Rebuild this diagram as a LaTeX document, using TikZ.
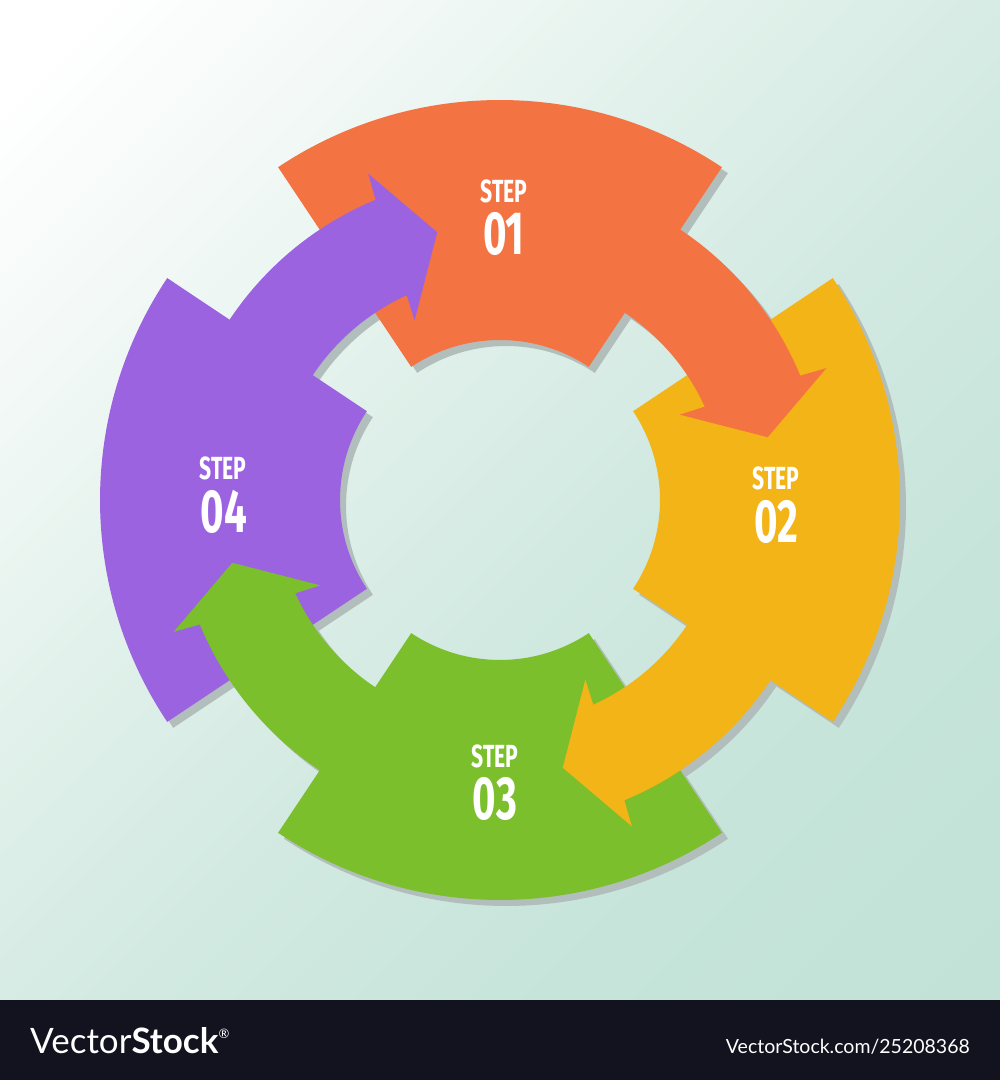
\documentclass[tikz,border=0pt]{standalone}
\usepackage{fontspec}
\newfontfamily\stepfont[FakeStretch=0.66]{Fira Sans}
\newfontfamily\logofont{Lato}
\definecolor{cOrange}{HTML}{F47342}
\definecolor{cYellow}{HTML}{F2B416}
\definecolor{cGreen}{HTML}{7BBF2C}
\definecolor{cPurple}{HTML}{9B63E0}
\definecolor{shadowc}{HTML}{B2BEBB}
\definecolor{barc}{HTML}{12131F}
\definecolor{bgA}{HTML}{FFFFFF}
\definecolor{bgB}{HTML}{F1F8F5}
\definecolor{bgC}{HTML}{E0F0EA}
\definecolor{bgD}{HTML}{D1E9E1}
\definecolor{bgE}{HTML}{C6E4DA}
\definecolor{bgF}{HTML}{BEE0D4}
\pgfdeclarehorizontalshading{bgshade}{100bp}{color(0bp)=(bgA); color(18bp)=(bgA); color(30bp)=(bgB); color(42bp)=(bgC); color(55bp)=(bgD); color(70bp)=(bgE); color(100bp)=(bgF)}
\tikzset{
  steplabel/.style={text=white, inner sep=0pt, font=\stepfont\bfseries\fontsize{32}{32}\selectfont},
  stepnum/.style={text=white, inner sep=0pt, font=\stepfont\bfseries\fontsize{61}{61}\selectfont},
}
\begin{document}
\begin{tikzpicture}[x=1pt,y=1pt]
\useasboundingbox (0,0) rectangle (1000,1080);
\shade[shading=bgshade, shading angle=-45] (0,80) rectangle (1000,1080);
\fill[barc] (0,0) rectangle (1000,80);
\begin{scope}[shift={(500,580)}]
  % shadows
  \foreach \c in {90,0,-90,180} {
    \fill[shadowc, shift={(6pt,-6pt)}] (\c+33.7:160pt) -- (\c+33.7:400pt)
      arc[start angle=\c+33.7, end angle=\c-33.7, radius=400pt] -- (\c-33.7:160pt)
      arc[start angle=\c-33.7, end angle=\c+33.7, radius=160pt] -- cycle;
    \fill[shadowc, shift={(6pt,-6pt)}] (\c-30:225pt) -- (\c-30:325pt)
      arc[start angle=\c-30, end angle=\c-67.5, radius=325pt] -- (\c-68:352pt)
      -- (\c-76.8:275pt) -- (\c-64.6:199pt) -- (\c-65.5:225pt)
      arc[start angle=\c-65.5, end angle=\c-30, radius=225pt] -- cycle;
  }
  % blocks
  \foreach \c/\col in {90/cOrange, 0/cYellow, -90/cGreen, 180/cPurple} {
    \fill[\col] (\c+33.7:160pt) -- (\c+33.7:400pt)
      arc[start angle=\c+33.7, end angle=\c-33.7, radius=400pt] -- (\c-33.7:160pt)
      arc[start angle=\c-33.7, end angle=\c+33.7, radius=160pt] -- cycle;
  }
  % arrows
  \foreach \c/\col in {90/cOrange, 0/cYellow, -90/cGreen, 180/cPurple} {
    \fill[\col] (\c-30:225pt) -- (\c-30:325pt)
      arc[start angle=\c-30, end angle=\c-67.5, radius=325pt] -- (\c-68:352pt)
      -- (\c-76.8:275pt) -- (\c-64.6:199pt) -- (\c-65.5:225pt)
      arc[start angle=\c-65.5, end angle=\c-30, radius=225pt] -- cycle;
  }
\end{scope}
\node[steplabel] (s1) at (504,889) {STEP};
\node[stepnum] (n1) at (504,846) {01};
\node[steplabel] (s2) at (776,602) {STEP};
\node[stepnum] (n2) at (776,558) {02};
\node[steplabel] (s3) at (495,324) {STEP};
\node[stepnum] (n3) at (495,281) {03};
\node[steplabel] (s4) at (223,612) {STEP};
\node[stepnum] (n4) at (224,568) {04};
\node[anchor=base west, text=white, inner sep=0pt] (logo) at (30,27)
  {\logofont\fontsize{35}{35}\selectfont Vector\textbf{Stock}\raisebox{15pt}{\fontsize{13}{13}\selectfont ®}};
\node[anchor=base east, text=white, inner sep=0pt] (url) at (970,27)
  {\logofont\fontsize{19.5}{20}\selectfont VectorStock.com/25208368};
\end{tikzpicture}
\end{document}
